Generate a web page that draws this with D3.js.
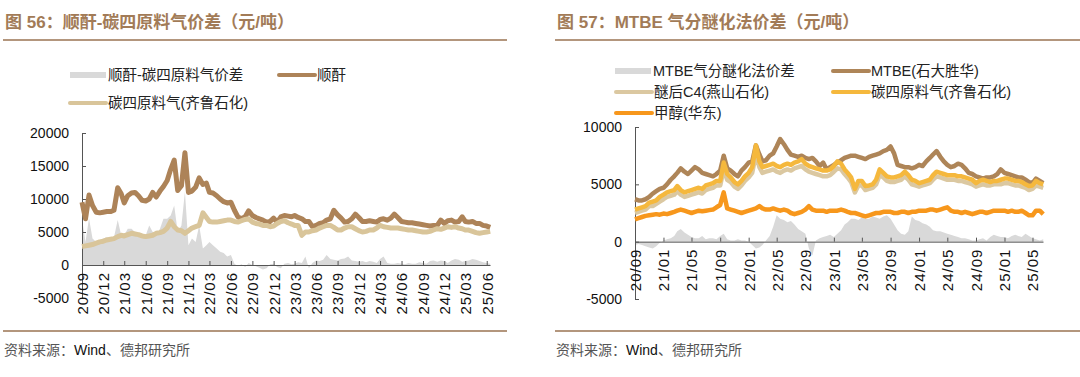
<!DOCTYPE html>
<html>
<head>
<meta charset="utf-8">
<script src="https://cdn.jsdelivr.net/npm/d3@7"></script>
<style>
  body { margin: 0; background: #fff; }
  svg text { font-family: "Liberation Sans", "Noto Sans CJK SC", sans-serif; }
</style>
</head>
<body>
<svg id="chart" width="1080" height="377"></svg>
<script>
// ---- data (semi-monthly readings, 2020/09 -> 2025/06) ----
// left: 顺酐 / 碳四原料气(齐鲁石化) / spread
const shunGan = [
  9500, 7000, 10600, 9000, 8000, 7900, 8000, 8100,                       // 2020 09-12
  8100, 8300, 11700, 10800, 9400, 10500, 10900, 11000, 10500, 9800, 9700, 10000,
  11000, 10300, 11200, 11900, 12800, 14500, 15900, 11300, 12000, 17000, 11000, 11200, // 2021
  11800, 13200, 12200, 12400, 11000, 10900, 10500, 10000, 9600, 9400, 9500, 8300,
  7300, 7000, 7300, 8200, 7500, 7200, 7000, 6800, 6500, 6600, 7100, 6500,  // 2022
  7300, 7500, 7400, 7300, 7500, 7200, 7000, 6600, 6600, 5800, 6000, 6300,
  6400, 6800, 7000, 8300, 7600, 7100, 6500, 6600, 7000, 7700, 7200, 6600,  // 2023
  6600, 6700, 6600, 6500, 6900, 7000, 6800, 7100, 7700, 7200, 6600, 6500,
  6400, 6400, 6300, 6200, 6100, 6000, 5900, 6000, 6000, 6800, 6300, 6700,  // 2024
  6800, 6500, 6600, 7300, 6600, 6500, 6600, 6300, 6300, 6000, 5900, 5700   // 2025 01-06
];
const tanSiLeft = [
  2800, 2900, 3000, 3100, 3300, 3500, 3600, 3800,
  3900, 4000, 4300, 4500, 4400, 4600, 4800, 4700, 4600, 4400, 4300, 4400,
  4500, 4800, 4900, 5100, 5600, 6600, 5800, 5300, 5200, 4800, 5200, 5600,
  5800, 6000, 7900, 7200, 6600, 6500, 6500, 6600, 6700, 6800, 6800, 6600,
  6500, 6700, 6900, 7000, 6500, 6300, 6200, 6000, 6000, 5800, 5900, 6300,
  6600, 6700, 6400, 6200, 6000, 6000, 4500, 5000, 5000, 5200, 5300, 5600,
  5800, 6000, 6000, 5700, 5300, 5300, 5600, 5800, 5800, 5500, 5200, 5000,
  5100, 5300, 5300, 5600, 6000, 5800, 5700, 5600, 5600, 5600, 5500, 5400,
  5300, 5300, 5200, 5100, 5000, 5000, 5100, 5300, 5500, 5400, 5600, 5800,
  5700, 5800, 5600, 5500, 5300, 5300, 5100, 4900, 4800, 4900, 5000, 5100
];
const spreadLeft = [
  7000, 3500, 7100, 4000, 3500, 3700, 4000, 4200,
  4000, 4200, 6800, 4500, 4500, 5500, 5500, 5000, 4500, 4000, 4500, 6000,
  5000, 4500, 5500, 7000, 7000, 7500, 9000, 5000, 6000, 11100, 3000, 4000,
  3500, 6000, 2500, 3000, 3500, 3000, 2500, 2000, 1800, 1300, 1500, 200,
  -200, 100, -300, 300, 0, -200, -400, -700, -500, 100, 200, -300,
  -500, 200, 300, 100, 200, 400, 300, 1300, -500, 300, 700, 600,
  800, 1500, 900, 800, 700, 900, 1000, 1300, 700, 600, 500, 600,
  400, 600, 500, 300, 900, 1300, 300, 200, 200, 300, 200, 100,
  300, 200, 200, 400, 300, 200, 600, 700, 500, 700, 600, 300,
  700, 900, 800, 500, 600, 700, 900, 800, 600, 400, 300, 200
];

// right: MTBE(石大胜华) / 醚后C4(燕山石化) / 碳四原料气(齐鲁石化) / 甲醇(华东) / spread
const mtbe = [
  3700, 3600, 3600, 3700, 3900, 4200, 4400, 4600,
  4700, 5000, 5400, 5700, 6000, 6400, 6100, 5900, 6200, 6500, 6300, 6000,
  5900, 5800, 5700, 5900, 6200, 7500, 6400, 6200, 5900, 5700, 6200, 6500,
  6900, 7000, 8400, 7600, 7000, 7100, 7500, 7700, 8300, 8950, 8500, 8000,
  7600, 7500, 7400, 7500, 7300, 7200, 7300, 7000, 6600, 6900, 6300, 6500,
  6700, 6900, 7100, 7300, 7400, 7500, 7500, 7400, 7300, 7200, 7400, 7500,
  7600, 7700, 7900, 8000, 8300, 7700, 6700, 6600, 6500, 6500, 6400, 6500,
  6700, 6600, 7000, 7300, 7600, 7900, 7400, 7000, 6700, 6500, 6600, 6800,
  6700, 6400, 6000, 5900, 5700, 5600, 5500, 5600, 5600, 5700, 5900, 6300,
  6000, 5900, 5800, 5700, 5600, 5600, 5400, 5200, 5100, 5500, 5300, 5100
];
const c4After = [
  2500, 2600, 2700, 2800, 3100, 3100, 3300, 3500,
  3700, 3900, 4000, 4100, 4400, 4100, 3900, 4000, 4100, 4200, 4300, 4200,
  4500, 4600, 4700, 4900, 4900, 6300, 5400, 5200, 4800, 4600, 4900, 5300,
  5600, 6000, 7600, 6500, 6000, 6100, 6200, 6300, 6100, 6000, 6200, 6300,
  6200, 6400, 6500, 6600, 6300, 6100, 6000, 5900, 5800, 5700, 5700, 5800,
  6100, 6400, 6300, 5900, 5600, 5200, 4300, 4900, 4900, 4500, 4600, 4700,
  5000, 5800, 5600, 5300, 5200, 5200, 5300, 5400, 5700, 5400, 5000, 4900,
  4800, 4900, 5000, 5100, 5400, 5700, 5600, 5500, 5400, 5400, 5400, 5300,
  5300, 5200, 5100, 5000, 4800, 4900, 5000, 4900, 4900, 5000, 5000, 5000,
  5100, 5100, 5000, 4900, 4900, 4800, 4700, 4500, 4600, 4900, 4800, 4700
];
const tanSiRight = [
  2800, 2900, 3000, 3100, 3400, 3500, 3600, 3900,
  4100, 4300, 4400, 4500, 4850, 4500, 4300, 4400, 4500, 4600, 4700, 4600,
  4900, 5000, 5100, 5300, 5300, 6900, 5900, 5600, 5200, 5000, 5300, 5700,
  6000, 6500, 8400, 7000, 6500, 6600, 6700, 6800, 6600, 6500, 6700, 6800,
  6700, 6900, 7000, 7200, 6800, 6600, 6500, 6400, 6300, 6200, 6200, 6300,
  6600, 7000, 6800, 6300, 6000, 5600, 4600, 5300, 5300, 4850, 4900, 5000,
  5400, 6300, 6000, 5700, 5600, 5600, 5700, 5800, 6100, 5800, 5400, 5300,
  5100, 5200, 5300, 5400, 5800, 6100, 6000, 5900, 5800, 5800, 5800, 5700,
  5700, 5600, 5500, 5400, 5100, 5300, 5400, 5300, 5200, 5300, 5300, 5400,
  5500, 5500, 5400, 5300, 5300, 5200, 5000, 4850, 4900, 5300, 5100, 5000
];
const methanol = [
  1950, 2050, 2150, 2250, 2300, 2350, 2400, 2350,
  2450, 2400, 2500, 2600, 2700, 2800, 2700, 2600, 2500, 2600, 2700, 2650,
  2700, 2750, 2800, 3000, 3200, 4300, 2900, 2800, 2700, 2600, 2500, 2600,
  2700, 2800, 2900, 3100, 2900, 2800, 2800, 2900, 2800, 2700, 2800, 2700,
  2500, 2400, 2500, 2600, 2800, 3100, 2800, 2700, 2700, 2700, 2600, 2700,
  2700, 2700, 2800, 2700, 2600, 2500, 2500, 2400, 2300, 2200, 2300, 2400,
  2500, 2500, 2600, 2600, 2600, 2500, 2500, 2600, 2600, 2500, 2600, 2600,
  2700, 2700, 2700, 2800, 2800, 2700, 2800, 2900, 3000, 2700, 2600, 2600,
  2500, 2600, 2500, 2400, 2500, 2600, 2600, 2500, 2600, 2700, 2700, 2700,
  2700, 2600, 2700, 2600, 2600, 2700, 2500, 2300, 2300, 2700, 2700, 2400
];
const spreadRight = [
  -300, -200, -300, -400, -500, -600, -400, -100,
  100, 200, 300, 500, 900, 1100, 800, 600, 400, 300, 300, 500,
  200, 300, 300, 200, 500, 700, 200, 100, 100, 200, 100, 100,
  0, -300, -600, -500, -300, 100, 500, 1300, 2300, 2000, 1900, 1700,
  1800, 1500, 1100, 900, 700, -600, -1200, 100, 300, 400, 500, 600,
  400, 700, 1000, 1500, 1700, 2000, 2000, 1900, 2100, 2000, 2000, 2200,
  2100, 2000, 2200, 2300, 2000, 1500, 1000, 700, 600, 900, 2200, 1900,
  1800, 1600, 1500, 1300, 1000, 900, 900, 800, 700, 600, 500, 400,
  300, 300, 200, 100, 100, 200, 300, 100, 400, 600, 500, 400,
  400, 300, 500, 600, 500, 400, 700, 500, 300, 200, 100, 200
];

const leftTickDates = d3.range(20).map(i => new Date(2020, 8 + 3 * i, 1));   // 20/09 .. 25/06
const rightTickDates = d3.range(15).map(i => new Date(2020, 8 + 4 * i, 1));  // 20/09 .. 25/05

// x positions of the semi-monthly readings
const dates = d3.range(shunGan.length).map(i => new Date(2020, 8 + Math.floor(i / 2), i % 2 ? 16 : 1));

const svg = d3.select("#chart");
const ruleColor = "#b3967d";

function panel(cfg) {
  const g = svg.append("g");

  // title + rules + source
  g.append("text")
    .attr("x", cfg.titleX).attr("y", 28)
    .attr("fill", "#a27b57")
    .style("font-size", "17px").style("font-weight", "bold")
    .text(cfg.title);
  [40, 331].forEach(yy => {
    g.append("line")
      .attr("x1", cfg.rule[0]).attr("x2", cfg.rule[1])
      .attr("y1", yy).attr("y2", yy)
      .attr("stroke", ruleColor).attr("stroke-width", 2);
  });
  const src = g.append("text").attr("x", cfg.titleX - 1).attr("y", 355).style("font-size", "14px");
  src.append("tspan").attr("fill", "#555").text("资料来源：");
  src.append("tspan").attr("fill", "#111").text("Wind");
  src.append("tspan").attr("fill", "#555").text("、德邦研究所");

  // scales
  const x = d3.scaleTime()
    .domain([new Date(2020, 8, 1), new Date(2025, 5, 15)])
    .range(cfg.xRange);
  const y = d3.scaleLinear().domain(cfg.yDomain).range(cfg.yRange);

  // spread area
  const area = d3.area()
    .x((d, i) => x(dates[i]))
    .y0(y(0))
    .y1(d => y(d));
  g.append("path").datum(cfg.spread).attr("d", area).attr("fill", "#d9d9d9");

  // axes
  const yAxis = d3.axisLeft(y)
    .tickValues(cfg.yTicks)
    .tickSize(-4).tickPadding(13)
    .tickFormat(d => String(d));
  const ya = g.append("g").attr("transform", `translate(${cfg.xRange[0]},0)`).call(yAxis);
  ya.selectAll("text").style("font-size", "14px").attr("fill", "#111");

  const xAxis = d3.axisBottom(x)
    .tickValues(cfg.xTicks)
    .tickSize(-4).tickSizeOuter(0)
    .tickFormat(d3.timeFormat("%y/%m"));
  const xa = g.append("g").attr("transform", `translate(0,${y(0)})`).call(xAxis);
  xa.selectAll("text")
    .attr("transform", "rotate(-90)")
    .attr("x", -7).attr("y", 0).attr("dy", "0.36em")
    .style("text-anchor", "end")
    .style("font-size", "15px").style("letter-spacing", "1px")
    .attr("fill", "#111");
  [ya, xa].forEach(a => {
    a.select(".domain").attr("stroke", "#555");
    a.selectAll(".tick line").attr("stroke", "#555");
  });

  // lines
  const line = d3.line().x((d, i) => x(dates[i])).y(d => y(d));
  cfg.series.forEach(s => {
    g.append("path").datum(s.values)
      .attr("d", line)
      .attr("fill", "none")
      .attr("stroke", s.color)
      .attr("stroke-width", cfg.lineWidth)
      .attr("stroke-linejoin", "round");
  });

  // legend
  cfg.legend.forEach(it => {
    if (it.kind === "rect") {
      g.append("rect").attr("x", it.x).attr("y", it.y - 3).attr("width", 36).attr("height", 6).attr("fill", it.color);
    } else {
      g.append("line").attr("x1", it.x).attr("x2", it.x + 36).attr("y1", it.y).attr("y2", it.y)
        .attr("stroke", it.color).attr("stroke-width", 4).attr("stroke-linecap", "round");
    }
    g.append("text").attr("x", it.x + 38).attr("y", it.y).attr("dy", "0.36em")
      .style("font-size", "14.5px").attr("fill", "#222").text(it.label);
  });
}

panel({
  title: "图 56：顺酐-碳四原料气价差（元/吨）",
  titleX: 5, rule: [3, 507],
  xRange: [82, 490], yDomain: [-5000, 20000], yRange: [298, 133],
  yTicks: [-5000, 0, 5000, 10000, 15000, 20000],
  xTicks: leftTickDates,
  spread: spreadLeft,
  lineWidth: 5,
  series: [
    { values: shunGan, color: "#ad8358" },
    { values: tanSiLeft, color: "#d9c59a" }
  ],
  legend: [
    { kind: "rect", x: 70, y: 75, color: "#d9d9d9", label: "顺酐-碳四原料气价差" },
    { kind: "line", x: 279, y: 75, color: "#ad8358", label: "顺酐" },
    { kind: "line", x: 70, y: 103, color: "#d9c59a", label: "碳四原料气(齐鲁石化)" }
  ]
});

panel({
  title: "图 57：MTBE 气分醚化法价差（元/吨）",
  titleX: 557, rule: [555, 1080],
  xRange: [635, 1043], yDomain: [-5000, 10000], yRange: [299, 127],
  yTicks: [-5000, 0, 5000, 10000],
  xTicks: rightTickDates,
  spread: spreadRight,
  lineWidth: 4.5,
  series: [
    { values: mtbe, color: "#ae8558" },
    { values: c4After, color: "#dbc8a1" },
    { values: tanSiRight, color: "#f5b83d" },
    { values: methanol, color: "#f7971c" }
  ],
  legend: [
    { kind: "rect", x: 615, y: 71, color: "#d9d9d9", label: "MTBE气分醚化法价差" },
    { kind: "line", x: 833, y: 71, color: "#ae8558", label: "MTBE(石大胜华)" },
    { kind: "line", x: 616, y: 92, color: "#dbc8a1", label: "醚后C4(燕山石化)" },
    { kind: "line", x: 833, y: 92, color: "#f5b83d", label: "碳四原料气(齐鲁石化)" },
    { kind: "line", x: 616, y: 113, color: "#f7971c", label: "甲醇(华东)" }
  ]
});
</script>
</body>
</html>
